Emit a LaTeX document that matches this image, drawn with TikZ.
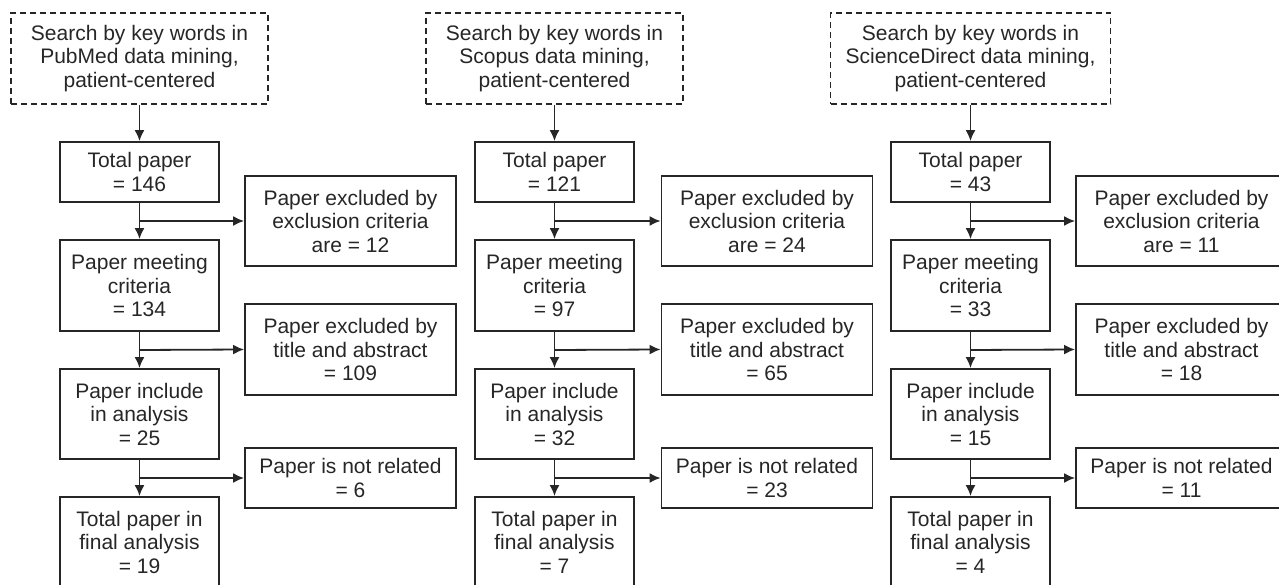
\documentclass[tikz,border=0pt]{standalone}
\usepackage{fontspec}
\setmainfont{Liberation Sans}
\usetikzlibrary{arrows.meta, calc, positioning}
\definecolor{ink}{HTML}{262626}

\begin{document}
\begin{tikzpicture}[x=1pt, y=1pt, >={Latex[length=11pt, width=10pt]},
    every node/.style={font=\fontsize{21}{23.5}\selectfont, text=ink, align=center},
    box/.style={draw=ink, line width=1.8pt, minimum width=159pt, minimum height=#1, inner sep=0pt},
    sidebox/.style={draw=ink, line width=1.8pt, minimum width=211pt, minimum height=#1, inner sep=0pt},
    search/.style={draw=ink, line width=1.6pt, dash pattern=on 6pt off 4pt, minimum width=#1, minimum height=91pt, inner sep=0pt},
    flow/.style={draw=ink, line width=1.8pt, ->}]
    \useasboundingbox (0,0) rectangle (1279,584);
    \clip (0,0) rectangle (1279,584);

    % PubMed
    \node[search=257pt] (pubmed) at (139.5, 525.5) {Search by key words in\\ PubMed data mining,\\ patient-centered};
    \node[box=60pt] (pmtotal) at (139.5, 412) {Total paper\\ = 146};
    \node[box=91pt] (pmmeet) at (139.5, 298.5) {Paper meeting\\ criteria\\ = 134};
    \node[box=90pt] (pminc) at (139.5, 170) {Paper include\\ in analysis\\ = 25};
    \node[box=90pt] (pmfinal) at (139.5, 42) {Total paper in\\ final analysis\\ = 19};
    \node[sidebox=90pt] (pmexcl) at (350.5, 363) {Paper excluded by\\ exclusion criteria\\ are = 12};
    \node[sidebox=91pt] (pmtitle) at (350.5, 234.5) {Paper excluded by\\ title and abstract\\ = 109};
    \node[sidebox=60pt] (pmnot) at (350.5, 106) {Paper is not related\\ = 6};

    \draw[flow] (pubmed) -- (pmtotal);
    \draw[flow] (pmtotal) -- (pmmeet);
    \draw[flow] (pmmeet) -- (pminc);
    \draw[flow] (pminc) -- (pmfinal);
    \draw[flow] ($(pmtotal.south)!.5!(pmmeet.north)$) -- (pmexcl.west);
    \draw[flow] ($(pmmeet.south)!.5!(pminc.north)$) -- (pmtitle.west);
    \draw[flow] ($(pminc.south)!.5!(pmfinal.north)$) -- (pmnot.west);

    % Scopus
    \node[search=257pt] (scopus) at (554.5, 525.5) {Search by key words in\\ Scopus data mining,\\ patient-centered};
    \node[box=60pt] (sctotal) at (554.5, 412) {Total paper\\ = 121};
    \node[box=91pt] (scmeet) at (554.5, 298.5) {Paper meeting\\ criteria\\ = 97};
    \node[box=90pt] (scinc) at (554.5, 170) {Paper include\\ in analysis\\ = 32};
    \node[box=90pt] (scfinal) at (554.5, 42) {Total paper in\\ final analysis\\ = 7};
    \node[sidebox=90pt] (scexcl) at (767, 363) {Paper excluded by\\ exclusion criteria\\ are = 24};
    \node[sidebox=91pt] (sctitle) at (767, 234.5) {Paper excluded by\\ title and abstract\\ = 65};
    \node[sidebox=60pt] (scnot) at (767, 106) {Paper is not related\\ = 23};

    \draw[flow] (scopus) -- (sctotal);
    \draw[flow] (sctotal) -- (scmeet);
    \draw[flow] (scmeet) -- (scinc);
    \draw[flow] (scinc) -- (scfinal);
    \draw[flow] ($(sctotal.south)!.5!(scmeet.north)$) -- (scexcl.west);
    \draw[flow] ($(scmeet.south)!.5!(scinc.north)$) -- (sctitle.west);
    \draw[flow] ($(scinc.south)!.5!(scfinal.north)$) -- (scnot.west);

    % ScienceDirect
    \node[search=280pt] (scidir) at (970.5, 525.5) {Search by key words in\\ ScienceDirect data mining,\\ patient-centered};
    \node[box=60pt] (sdtotal) at (970.5, 412) {Total paper\\ = 43};
    \node[box=91pt] (sdmeet) at (970.5, 298.5) {Paper meeting\\ criteria\\ = 33};
    \node[box=90pt] (sdinc) at (970.5, 170) {Paper include\\ in analysis\\ = 15};
    \node[box=90pt] (sdfinal) at (970.5, 42) {Total paper in\\ final analysis\\ = 4};
    \node[sidebox=90pt] (sdexcl) at (1181.5, 363) {Paper excluded by\\ exclusion criteria\\ are = 11};
    \node[sidebox=91pt] (sdtitle) at (1181.5, 234.5) {Paper excluded by\\ title and abstract\\ = 18};
    \node[sidebox=60pt] (sdnot) at (1181.5, 106) {Paper is not related\\ = 11};

    \draw[flow] (scidir) -- (sdtotal);
    \draw[flow] (sdtotal) -- (sdmeet);
    \draw[flow] (sdmeet) -- (sdinc);
    \draw[flow] (sdinc) -- (sdfinal);
    \draw[flow] ($(sdtotal.south)!.5!(sdmeet.north)$) -- (sdexcl.west);
    \draw[flow] ($(sdmeet.south)!.5!(sdinc.north)$) -- (sdtitle.west);
    \draw[flow] ($(sdinc.south)!.5!(sdfinal.north)$) -- (sdnot.west);
\end{tikzpicture}
\end{document}
